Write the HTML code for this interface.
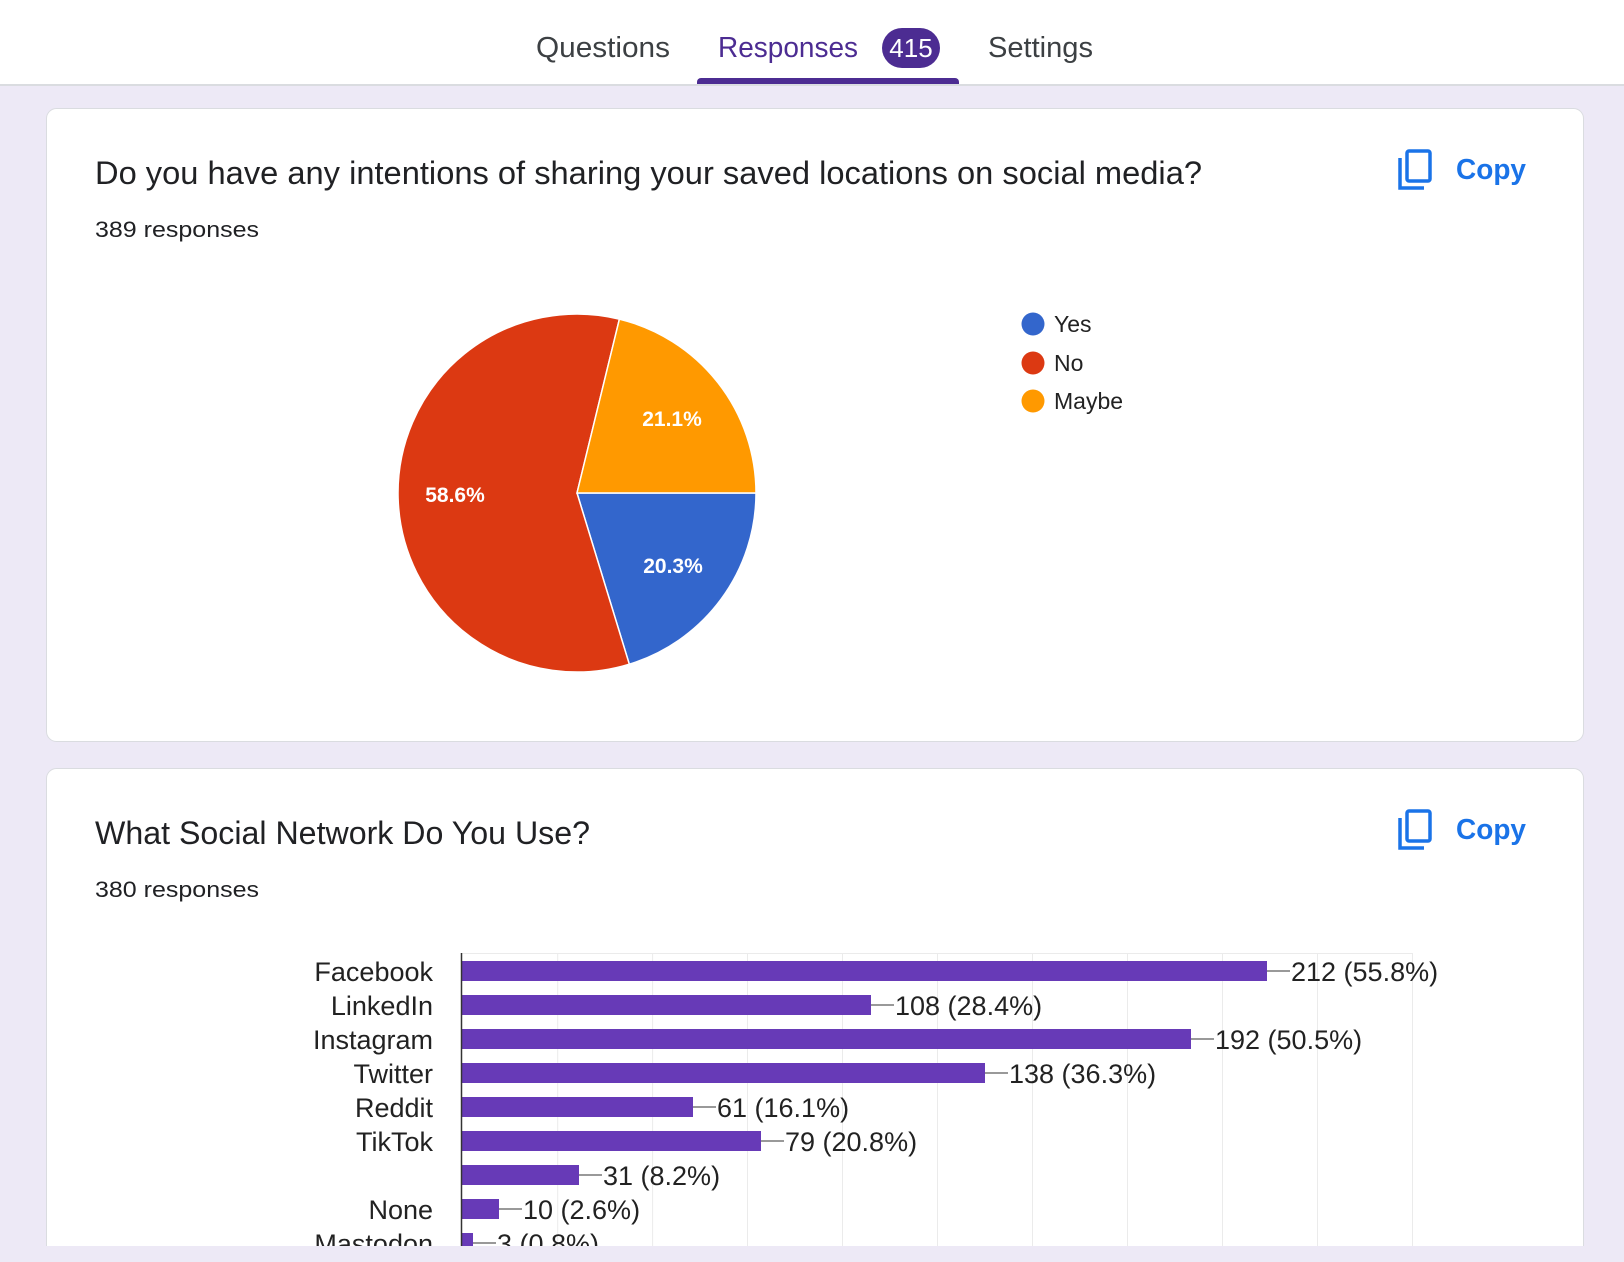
<!DOCTYPE html>
<html><head><meta charset="utf-8"><style>
html,body{margin:0;padding:0;background:#ede9f6;}
svg{display:block;font-family:"Liberation Sans",Arial,sans-serif;}
</style></head><body>
<svg width="1624" height="1262" viewBox="0 0 1624 1262" xmlns="http://www.w3.org/2000/svg">
<rect x="0" y="0" width="1624" height="1262" fill="#ede9f6"/>
<rect x="0" y="0" width="1624" height="84" fill="#fff"/>
<rect x="0" y="84" width="1624" height="2" fill="#dadce0"/>
<text x="536" y="57" font-size="29" fill="#3c4043" textLength="134" lengthAdjust="spacingAndGlyphs">Questions</text>
<text x="718" y="57" font-size="29" fill="#4c2c92" textLength="140" lengthAdjust="spacingAndGlyphs">Responses</text>
<rect x="882" y="28" width="58" height="40" rx="20" fill="#4c2c92"/>
<text x="911" y="57" font-size="26" fill="#fff" text-anchor="middle">415</text>
<text x="988" y="57" font-size="29" fill="#3c4043" textLength="105" lengthAdjust="spacingAndGlyphs">Settings</text>
<path d="M697 84 V82 a4 4 0 0 1 4 -4 H955 a4 4 0 0 1 4 4 V84 Z" fill="#4c2c92"/>

<rect x="46.5" y="108.5" width="1537" height="633" rx="10" fill="#fff" stroke="#dadce0"/>
<text x="95" y="184" font-size="32" fill="#202124" textLength="1107" lengthAdjust="spacingAndGlyphs">Do you have any intentions of sharing your saved locations on social media?</text>
<g fill="none" stroke="#1a73e8" stroke-width="3.5">
<path d="M1400 158 V188 H1424"/>
<rect x="1407" y="151" width="23" height="30" rx="2"/>
</g>
<text x="1456" y="179" font-size="29" fill="#1a73e8" font-weight="bold" textLength="70" lengthAdjust="spacingAndGlyphs">Copy</text>
<text x="95" y="237" font-size="22" fill="#202124" textLength="164" lengthAdjust="spacingAndGlyphs">389 responses</text>

<g stroke="#fff" stroke-width="1.5">
<path d="M577 493 L756 493 A179 179 0 0 1 629.3 664.2 Z" fill="#3366cc"/>
<path d="M577 493 L629.3 664.2 A179 179 0 1 1 619.4 319.1 Z" fill="#dc3912"/>
<path d="M577 493 L619.4 319.1 A179 179 0 0 1 756 493 Z" fill="#ff9900"/>
</g>
<g font-size="21" fill="#fff" font-weight="bold" text-anchor="middle">
<text x="672" y="426">21.1%</text>
<text x="455" y="502">58.6%</text>
<text x="673" y="573">20.3%</text>
</g>
<circle cx="1033" cy="324" r="11.5" fill="#3366cc"/>
<circle cx="1033" cy="363" r="11.5" fill="#dc3912"/>
<circle cx="1033" cy="401" r="11.5" fill="#ff9900"/>
<g font-size="23" fill="#222">
<text x="1054" y="332">Yes</text>
<text x="1054" y="371">No</text>
<text x="1054" y="409">Maybe</text>
</g>

<rect x="46.5" y="768.5" width="1537" height="520" rx="10" fill="#fff" stroke="#dadce0"/>
<text x="95" y="844" font-size="32" fill="#202124" textLength="495" lengthAdjust="spacingAndGlyphs">What Social Network Do You Use?</text>
<g fill="none" stroke="#1a73e8" stroke-width="3.5">
<path d="M1400 818 V848 H1424"/>
<rect x="1407" y="811" width="23" height="30" rx="2"/>
</g>
<text x="1456" y="839" font-size="29" fill="#1a73e8" font-weight="bold" textLength="70" lengthAdjust="spacingAndGlyphs">Copy</text>
<text x="95" y="897" font-size="22" fill="#202124" textLength="164" lengthAdjust="spacingAndGlyphs">380 responses</text>

<g stroke="#ebebeb" stroke-width="1">
<line x1="461" y1="953.5" x2="1413" y2="953.5"/>
<line x1="557.7" y1="953" x2="557.7" y2="1246"/>
<line x1="652.6" y1="953" x2="652.6" y2="1246"/>
<line x1="747.5" y1="953" x2="747.5" y2="1246"/>
<line x1="842.5" y1="953" x2="842.5" y2="1246"/>
<line x1="937.5" y1="953" x2="937.5" y2="1246"/>
<line x1="1032.5" y1="953" x2="1032.5" y2="1246"/>
<line x1="1127.5" y1="953" x2="1127.5" y2="1246"/>
<line x1="1222.5" y1="953" x2="1222.5" y2="1246"/>
<line x1="1317.5" y1="953" x2="1317.5" y2="1246"/>
<line x1="1412.5" y1="953" x2="1412.5" y2="1246"/>
</g>
<g fill="#673ab7">
<rect x="462" y="961" width="805" height="20"/>
<rect x="462" y="995" width="409" height="20"/>
<rect x="462" y="1029" width="729" height="20"/>
<rect x="462" y="1063" width="523" height="20"/>
<rect x="462" y="1097" width="231" height="20"/>
<rect x="462" y="1131" width="299" height="20"/>
<rect x="462" y="1165" width="117" height="20"/>
<rect x="462" y="1199" width="37" height="20"/>
<rect x="462" y="1233" width="11" height="20"/>
</g>
<g stroke="#999" stroke-width="2">
<line x1="1267" y1="971" x2="1290" y2="971"/>
<line x1="871" y1="1005" x2="894" y2="1005"/>
<line x1="1191" y1="1039" x2="1214" y2="1039"/>
<line x1="985" y1="1073" x2="1008" y2="1073"/>
<line x1="693" y1="1107" x2="716" y2="1107"/>
<line x1="761" y1="1141" x2="784" y2="1141"/>
<line x1="579" y1="1175" x2="602" y2="1175"/>
<line x1="499" y1="1209" x2="522" y2="1209"/>
<line x1="473" y1="1243" x2="496" y2="1243"/>
</g>
<line x1="461.5" y1="953" x2="461.5" y2="1246" stroke="#333" stroke-width="1.5"/>
<g font-size="27" fill="#222">
<text x="1291" y="981">212 (55.8%)</text>
<text x="895" y="1015">108 (28.4%)</text>
<text x="1215" y="1049">192 (50.5%)</text>
<text x="1009" y="1083">138 (36.3%)</text>
<text x="717" y="1117">61 (16.1%)</text>
<text x="785" y="1151">79 (20.8%)</text>
<text x="603" y="1185">31 (8.2%)</text>
<text x="523" y="1219">10 (2.6%)</text>
<text x="497" y="1253">3 (0.8%)</text>
</g>
<g font-size="27" fill="#222" text-anchor="end">
<text x="433" y="981">Facebook</text>
<text x="433" y="1015">LinkedIn</text>
<text x="433" y="1049">Instagram</text>
<text x="433" y="1083">Twitter</text>
<text x="433" y="1117">Reddit</text>
<text x="433" y="1151">TikTok</text>
<text x="433" y="1219">None</text>
<text x="433" y="1253">Mastodon</text>
</g>
<rect x="0" y="1246" width="1624" height="16" fill="#ede9f6"/>
</svg>
</body></html>
